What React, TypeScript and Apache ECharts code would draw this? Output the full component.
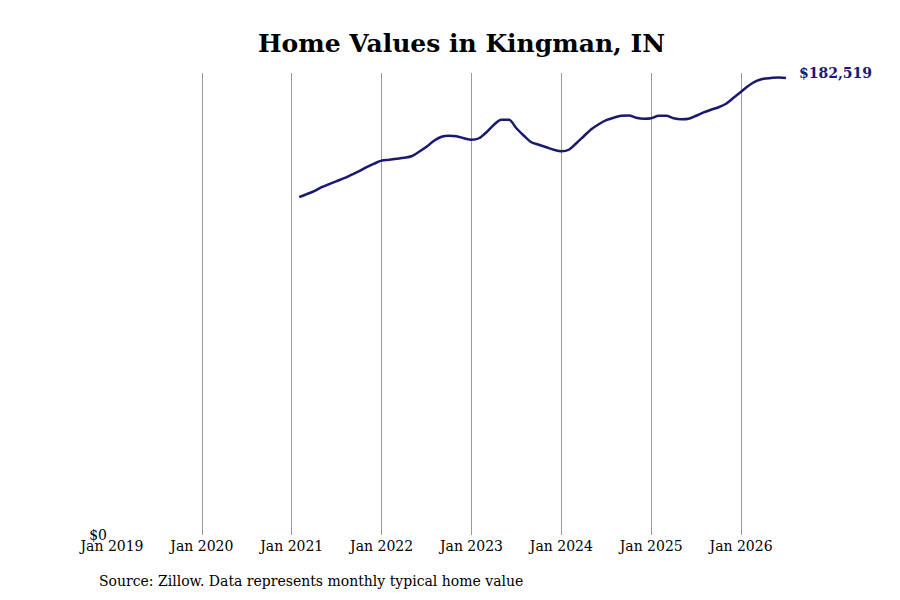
import React, { useEffect, useRef } from "react";
import * as echarts from "echarts";

// monthly typical home value, Feb 2021 .. Jul 2026
const startYear = 2019;
const firstMonth = "2021-02";
const homeValues = [
  134900, 136100, 137300, 138900, 140100, 141300, 142500, 143900, 145300, 146900, 148300,
  149500, 149850, 150250, 150650, 151250, 153050, 155040, 157440, 159040, 159440, 159240, 158440,
  157840, 158440, 160840, 163840, 165830, 165830, 162440, 159440, 156840, 155840, 154850, 153850,
  153250, 153850, 156440, 159240, 162040, 164040, 165640, 166630, 167430, 167550, 166630, 166230,
  166430, 167430, 167430, 166430, 166030, 166230, 167430, 168750, 169830, 170830, 172230, 174630,
  177020, 179420, 181220, 182220, 182500, 182700, 182519,
];
const tickYears = [2019, 2020, 2021, 2022, 2023, 2024, 2025, 2026];
const lastMonthIndex = 90; // Jul 2026
const yMax = 184500;

const FONT = "DejaVu Serif";
const LINE = "#191970";

const App: React.FC = () => {
  const chartRef = useRef<HTMLDivElement>(null);

  useEffect(() => {
    if (!chartRef.current) return;
    const chart = echarts.init(chartRef.current, null, { renderer: "svg" });

    const [fy, fm] = firstMonth.split("-").map(Number);
    const offset = (fy - startYear) * 12 + (fm - 1);
    const points = homeValues.map((v, i) => [offset + i, v]);

    const option = {
      animation: false,
      backgroundColor: "#fff",
      textStyle: { fontFamily: FONT },
      title: {
        text: "Home Values in Kingman, IN",
        left: 253,
        top: 26,
        textStyle: { fontFamily: FONT, fontSize: 25, fontWeight: "bold", color: "#000" },
      },
      grid: { left: 112, right: 114, top: 73, bottom: 65 },
      xAxis: {
        type: "value",
        min: 0,
        max: lastMonthIndex,
        interval: 12,
        axisLine: { show: false },
        axisTick: { show: false },
        splitLine: {
          show: true,
          showMinLine: false,
          showMaxLine: false,
          lineStyle: { color: "#999", width: 1 },
        },
        axisLabel: {
          showMaxLabel: false,
          margin: 4,
          color: "#000",
          fontFamily: FONT,
          fontSize: 14,
          formatter: (v: number) =>
            v % 12 === 0 && tickYears.includes(startYear + v / 12) ? `Jan ${startYear + v / 12}` : "",
        },
      },
      yAxis: {
        type: "value",
        min: 0,
        max: yMax,
        interval: yMax,
        axisLine: { show: false },
        axisTick: { show: false },
        splitLine: { show: false },
        axisLabel: {
          showMaxLabel: false,
          margin: 5,
          color: "#000",
          fontFamily: FONT,
          fontSize: 14,
          formatter: (v: number) => (v === 0 ? "$0" : ""),
        },
      },
      series: [
        {
          type: "line",
          data: points,
          showSymbol: false,
          smooth: 0.3,
          lineStyle: { color: LINE, width: 2.5 },
          endLabel: {
            show: true,
            distance: 13,
            offset: [0, -5],
            color: LINE,
            fontFamily: FONT,
            fontSize: 14,
            fontWeight: "bold",
            formatter: (p: any) => "$" + p.value[1].toLocaleString("en-US"),
          },
        },
      ],
      graphic: [
        {
          type: "text",
          left: 99,
          top: 574,
          style: {
            text: "Source: Zillow. Data represents monthly typical home value",
            fill: "#000",
            font: `14px '${FONT}'`,
          },
        },
      ],
    };

    chart.setOption(option);
    return () => chart.dispose();
  }, []);

  return (
    <div
      ref={chartRef}
      style={{ position: "fixed", left: 0, top: 0, width: 900, height: 600 }}
    />
  );
};

export default App;
